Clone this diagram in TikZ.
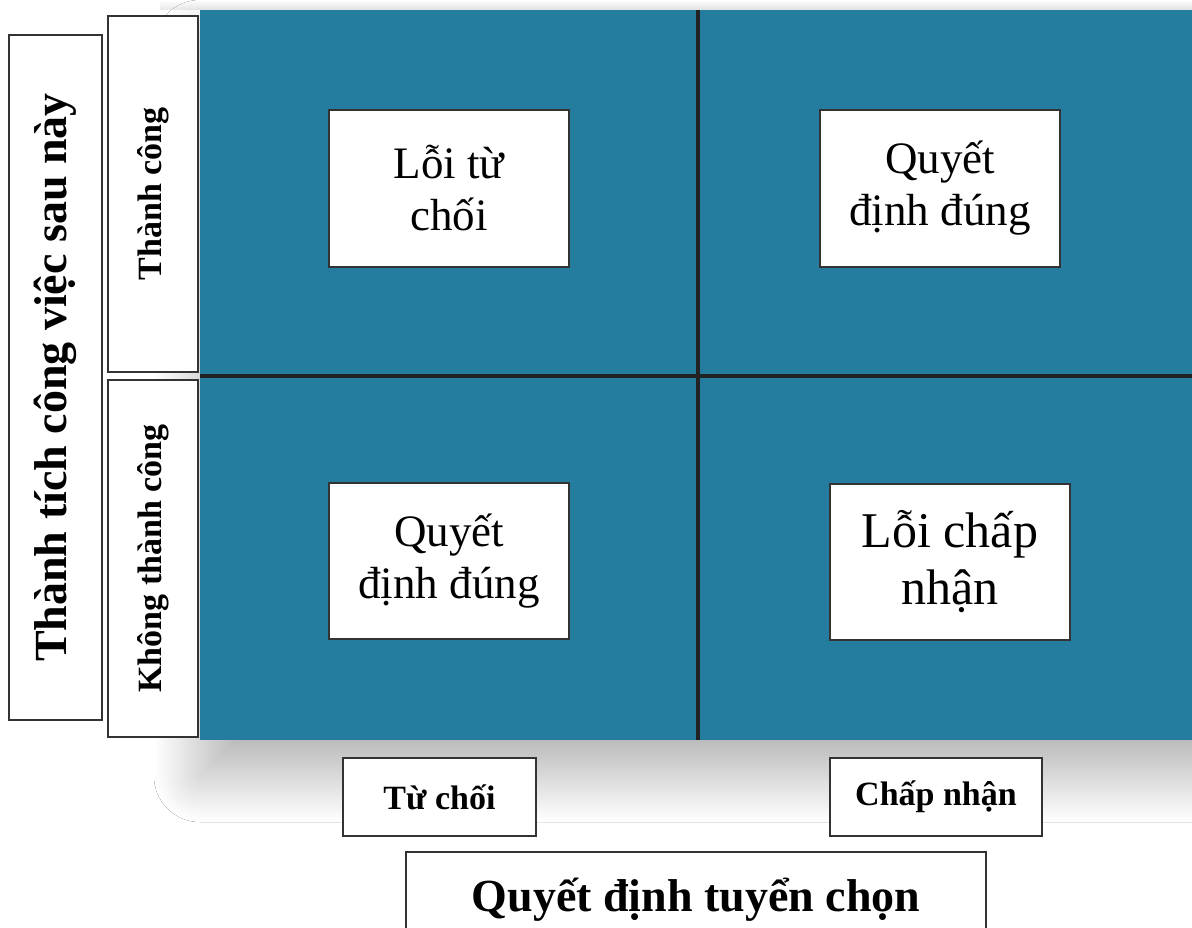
\documentclass[tikz,border=0pt]{standalone}
\usepackage{fontspec}
\setmainfont{Liberation Serif}
\usetikzlibrary{shadows.blur}
\definecolor{quadblue}{RGB}{36,124,158}
\definecolor{lineink}{RGB}{34,34,34}
\definecolor{boxink}{RGB}{51,51,51}
\begin{document}
\begin{tikzpicture}[x=1pt,y=-1pt,
  wbox/.style={draw=boxink,line width=1.4pt,fill=white,inner sep=0pt,align=center},
  qbox/.style={wbox,font=\fontsize{45}{52}\selectfont},
  sidebig/.style={wbox,rotate=90,font=\fontsize{46}{52}\selectfont\bfseries},
  sidesmall/.style={wbox,rotate=90,font=\fontsize{34}{40}\selectfont\bfseries},
  botsmall/.style={wbox,font=\fontsize{34}{40}\selectfont\bfseries},
  botbig/.style={wbox,font=\fontsize{46}{52}\selectfont\bfseries},
  divider/.style={draw=lineink,line width=3.5pt}]
\clip (0,0) rectangle (1192,928);
\fill[white] (0,0) rectangle (1192,928);
% faint shadow above the field
\shade[top color=white,bottom color=black!9] (200,0) rectangle (1192,10);
\shade[left color=white,right color=black!9,top color=white] (160,0) rectangle (200,10);
% blue field with soft shadow
\fill[quadblue,blur shadow={shadow xshift=0pt,shadow yshift=-36pt,shadow blur radius=46pt,shadow blur steps=80,shadow opacity=30}] (200,10) rectangle (1260,740);
\coordinate (vt) at (698,10);
\coordinate (vb) at (698,740);
\coordinate (hl) at (200,376);
\coordinate (hr) at (1260,376);
\draw[divider] (vt) -- (vb);
\draw[divider] (hl) -- (hr);
% quadrant boxes
\node[qbox,minimum width=240pt,minimum height=157pt] (tl) at (449,188.5) {Lỗi từ\\chối};
\node[qbox,minimum width=240pt,minimum height=157pt] (tr) at (940,188.5) {Quyết\\định đúng};
\node[qbox,minimum width=240pt,minimum height=156pt] (bl) at (449,561) {Quyết\\định đúng};
\node[qbox,minimum width=240pt,minimum height=156pt,font=\fontsize{50}{57}\selectfont] (br) at (950,562) {Lỗi chấp\\nhận};
% left labels
\node[sidebig,minimum width=685pt,minimum height=93pt] (perf) at (55.5,377.5) {Thành tích công việc sau này};
\node[sidesmall,minimum width=356pt,minimum height=90pt] (succ) at (153,194) {Thành công};
\node[sidesmall,minimum width=357pt,minimum height=90pt] (fail) at (153,558.5) {Không thành công};
% bottom labels
\node[botsmall,minimum width=193pt,minimum height=78pt] (rej) at (439.5,797) {Từ chối};
\node[botsmall,minimum width=212pt,minimum height=78pt] (acc) at (936,797) {Chấp nhận};
\node[botbig,minimum width=580pt,minimum height=96pt] (dec) at (696,900) {Quyết định tuyển chọn};
\end{tikzpicture}
\end{document}
